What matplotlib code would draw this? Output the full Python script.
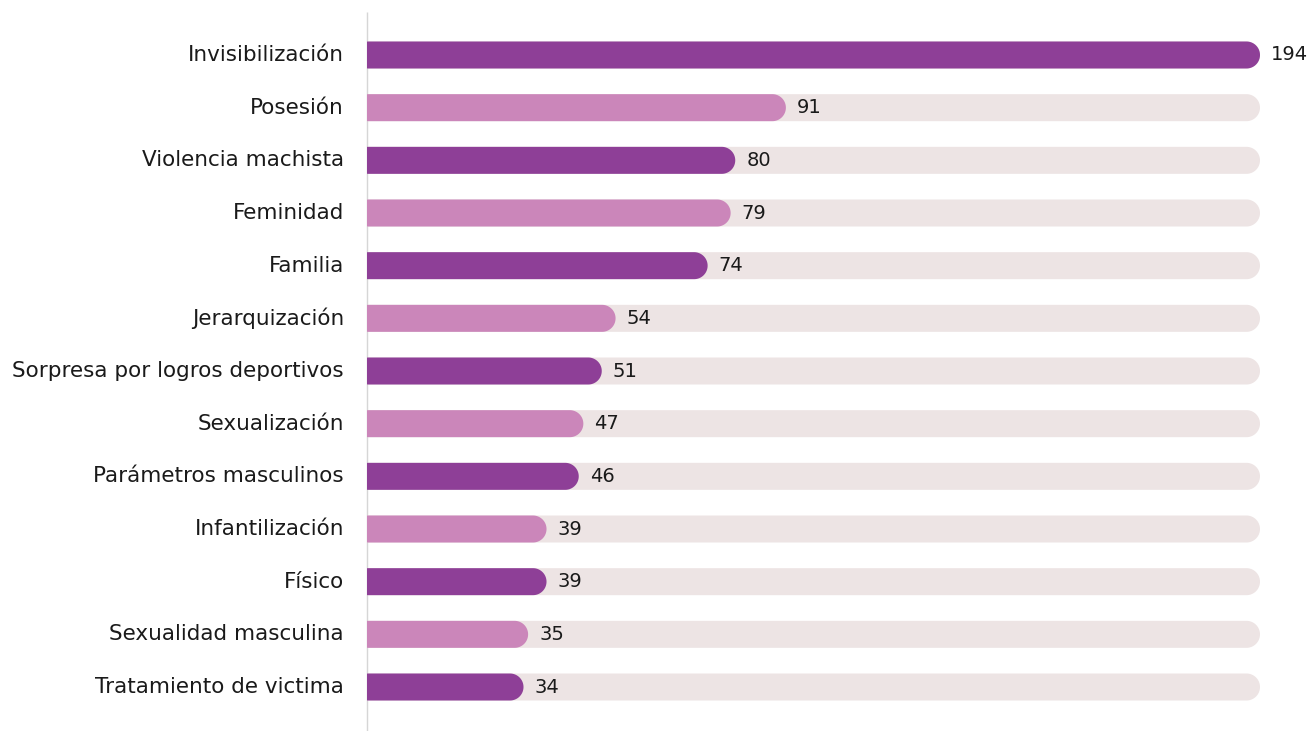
import numpy as np
import matplotlib
matplotlib.use("Agg")
import matplotlib.pyplot as plt
from matplotlib.patches import Polygon

categories = [
    "Invisibilización", "Posesión", "Violencia machista", "Feminidad", "Familia",
    "Jerarquización", "Sorpresa por logros deportivos", "Sexualización",
    "Parámetros masculinos", "Infantilización", "Físico",
    "Sexualidad masculina", "Tratamiento de victima",
]
values = [194, 91, 80, 79, 74, 54, 51, 47, 46, 39, 39, 35, 34]

DARK = "#8E3F97"
LIGHT = "#CB86BA"
TRACK = "#EDE4E4"
TEXT = "#1a1a1a"

W, H, DPI = 1307, 731, 100
fig = plt.figure(figsize=(W / DPI, H / DPI), dpi=DPI)
ax = fig.add_axes([0, 0, 1, 1])
ax.set_axis_off()

# layout in pixels
x0_px = 367          # bar baseline
xmax_px = 1260       # end of track (maximum value)
row0_px = 55         # first row centre from top
row_step = 52.667
bar_h_px = 27

vmax = max(values)
ppu = (xmax_px - x0_px) / vmax          # pixels per value unit
ax.set_xlim(-x0_px / ppu, (W - x0_px) / ppu)
ax.set_ylim((H - row0_px) / row_step, -row0_px / row_step)

bh = bar_h_px / row_step                 # bar height in row units
rx = (bar_h_px / 2) / ppu                # cap radius in value units
theta = np.linspace(-np.pi / 2, np.pi / 2, 40)


def rounded_bar(y, length, color, z):
    # square left edge, semicircular right cap
    cx = length - rx
    arc = np.column_stack([cx + rx * np.cos(theta), y + (bh / 2) * np.sin(theta)])
    verts = np.vstack([[[0, y - bh / 2]], arc, [[0, y + bh / 2]]])
    ax.add_patch(Polygon(verts, closed=True, facecolor=color,
                         edgecolor="none", zorder=z))


for i, (cat, v) in enumerate(zip(categories, values)):
    rounded_bar(i, vmax, TRACK, 1)
    rounded_bar(i, v, DARK if i % 2 == 0 else LIGHT, 2)
    ax.annotate(str(v), xy=(v, i), xytext=(11, 0), textcoords="offset pixels",
                ha="left", va="center", fontsize=14, color=TEXT, zorder=3)
    ax.text(-23 / ppu, i, cat, ha="right", va="center", fontsize=15.5, color=TEXT)

# baseline rule
ax.plot([0, 0], [-(row0_px - 12) / row_step, (H - row0_px) / row_step],
        color="#d6d6d6", lw=1, zorder=0, solid_capstyle="butt")

fig.savefig("out.png", dpi=DPI)
